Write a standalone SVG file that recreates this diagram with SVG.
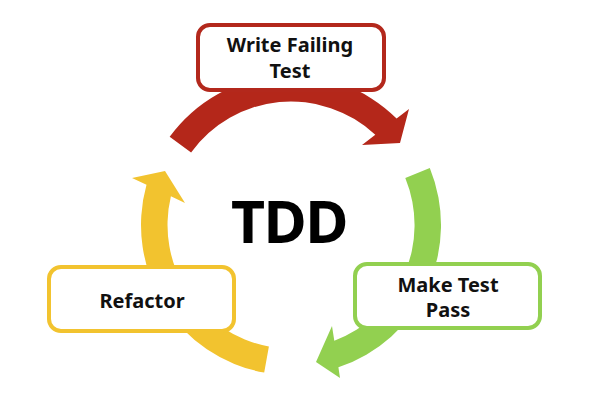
<svg xmlns="http://www.w3.org/2000/svg" width="597" height="399" viewBox="0 0 597 399">
<style>
.box{fill:#ffffff;stroke-width:4}
.lbl{font-family:"Noto Sans","Open Sans","Liberation Sans",sans-serif;font-weight:bold;font-size:20px;fill:#111111;text-anchor:middle}
.big{font-family:"Noto Sans","Open Sans","Liberation Sans",sans-serif;font-weight:bold;font-size:59px;letter-spacing:-1.5px;fill:#000000;text-anchor:middle}
</style>
<rect width="597" height="399" fill="#ffffff"/>
<g id="connectors">
<path id="arrow-red" fill="#B4271A" d="M169.65,136.8 A150,150 0 0 1 396.6,118.5 L409,109 L400,143 L362,145 L375.3,134.8 A123.5,123.5 0 0 0 191.1,152.4 Z"/>
<path id="arrow-green" fill="#92D050" d="M429.8,168.1 A150,150 0 0 1 338.4,367.3 L340,378 L316,362 L332,326 L334.3,340.7 A123.5,123.5 0 0 0 405.3,178.1 Z"/>
<path id="arrow-yellow" fill="#F2C32F" d="M264.2,372.6 A150,150 0 0 1 146.5,184.8 L132,178 L165,171 L185,203 L170.9,196.3 A123.5,123.5 0 0 0 268.9,346.5 Z"/>
</g>
<g id="center">
<text class="big" x="289" y="243">TDD</text>
</g>
<g id="node-write">
<rect class="box" x="198" y="25" width="186" height="65" rx="12" stroke="#B3281C"/>
<text class="lbl" x="290" y="52">Write Failing</text>
<text class="lbl" x="290" y="78">Test</text>
</g>
<g id="node-make">
<rect class="box" x="355" y="264" width="185" height="64" rx="12" stroke="#92D050"/>
<text class="lbl" x="448" y="292">Make Test</text>
<text class="lbl" x="448" y="317">Pass</text>
</g>
<g id="node-refactor">
<rect class="box" x="49" y="267" width="185" height="64" rx="12" stroke="#F2C32F"/>
<text class="lbl" x="142" y="308">Refactor</text>
</g>
</svg>
